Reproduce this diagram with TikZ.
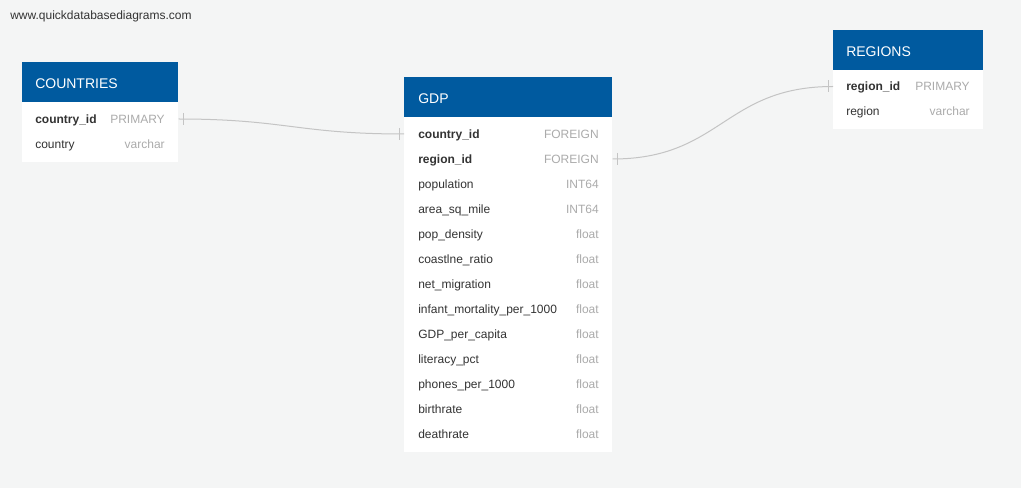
\documentclass[tikz,border=0pt]{standalone}
\usepackage{fontspec}
\setmainfont{Liberation Sans}
\usetikzlibrary{calc}
\definecolor{canvas}{HTML}{F4F5F5}
\definecolor{headblue}{HTML}{005A9F}
\definecolor{coltext}{HTML}{333333}
\definecolor{typetext}{HTML}{ABABAB}
\definecolor{linkgray}{HTML}{C4C4C4}
\tikzset{
  tblhead/.style={fill=headblue, draw=none, anchor=north west, inner sep=0pt},
  tblbody/.style={fill=white, draw=none, anchor=north west, inner sep=0pt},
  headtext/.style={text=white, font=\fontsize{10.5}{12}\selectfont, anchor=west, inner sep=0pt,
    text height=7.6pt, text depth=0pt},
  colname/.style={text=coltext, font=\fontsize{9}{11}\selectfont, anchor=west, inner sep=0pt,
    text height=6.6pt, text depth=0pt},
  keyname/.style={colname, font=\fontsize{9}{11}\selectfont\bfseries},
  coltype/.style={colname, text=typetext, anchor=east},
  link/.style={linkgray, line width=0.75pt},
}

\begin{document}
\begin{tikzpicture}[x=0.75pt, y=-0.75pt]
\fill[canvas] (0,0) rectangle (1021,488);
\node[colname, anchor=north west] (site) at (10,10) {www.quickdatabasediagrams.com};

% COUNTRIES
\node[tblhead, minimum width=117pt, minimum height=30pt] (cHead) at (22,62) {};
\node[tblbody, minimum width=117pt, minimum height=45pt] (cBody) at (22,102) {};
\node[headtext] at (35,83) {COUNTRIES};
\node[keyname] (cId) at (35,119) {country\_id};
\node[coltype] at (165,119) {PRIMARY};
\node[colname] (cName) at (35,144) {country};
\node[coltype] at (165,144) {varchar};

% GDP
\node[tblhead, minimum width=156pt, minimum height=30pt] (gHead) at (404,77) {};
\node[tblbody, minimum width=156pt, minimum height=251.25pt] (gBody) at (404,117) {};
\node[headtext] at (418,98) {GDP};
\node[keyname] (gCountry) at (418,134) {country\_id};
\node[coltype] at (599,134) {FOREIGN};
\node[keyname] (gRegion) at (418,159) {region\_id};
\node[coltype] at (599,159) {FOREIGN};
\foreach \col/\typ [count=\i from 2] in {population/INT64, area\_sq\_mile/INT64,
    pop\_density/float, coastlne\_ratio/float, net\_migration/float,
    infant\_mortality\_per\_1000/float, GDP\_per\_capita/float, literacy\_pct/float,
    phones\_per\_1000/float, birthrate/float, deathrate/float}
{
  \node[colname] (gRow\i) at (418,134+25*\i) {\col};
  \node[coltype] at (599,134+25*\i) {\typ};
}

% REGIONS
\node[tblhead, minimum width=112.5pt, minimum height=30pt] (rHead) at (833,30) {};
\node[tblbody, minimum width=112.5pt, minimum height=44.25pt] (rBody) at (833,70) {};
\node[headtext] at (846,51) {REGIONS};
\node[keyname] (rId) at (846,86.5) {region\_id};
\node[coltype] at (970,86.5) {PRIMARY};
\node[colname] (rName) at (846,111.5) {region};
\node[coltype] at (970,111.5) {varchar};

% links
\coordinate (l1a) at (cBody.east |- cId);
\coordinate (l1b) at (gBody.west |- gCountry);
\coordinate (l2a) at (gBody.east |- gRegion);
\coordinate (l2b) at (rBody.west |- rId);
\draw[link] (l1a) to[out=0, in=180, looseness=1.2] (l1b);
\draw[link] (l2a) to[out=0, in=180, looseness=1.2] (l2b);
\draw[link] ($(l1a)+(5,-6)$) -- ++(0,12);
\draw[link] ($(l1b)+(-5,-6)$) -- ++(0,12);
\draw[link] ($(l2a)+(5,-6)$) -- ++(0,12);
\draw[link] ($(l2b)+(-5,-6)$) -- ++(0,12);
\end{tikzpicture}
\end{document}
